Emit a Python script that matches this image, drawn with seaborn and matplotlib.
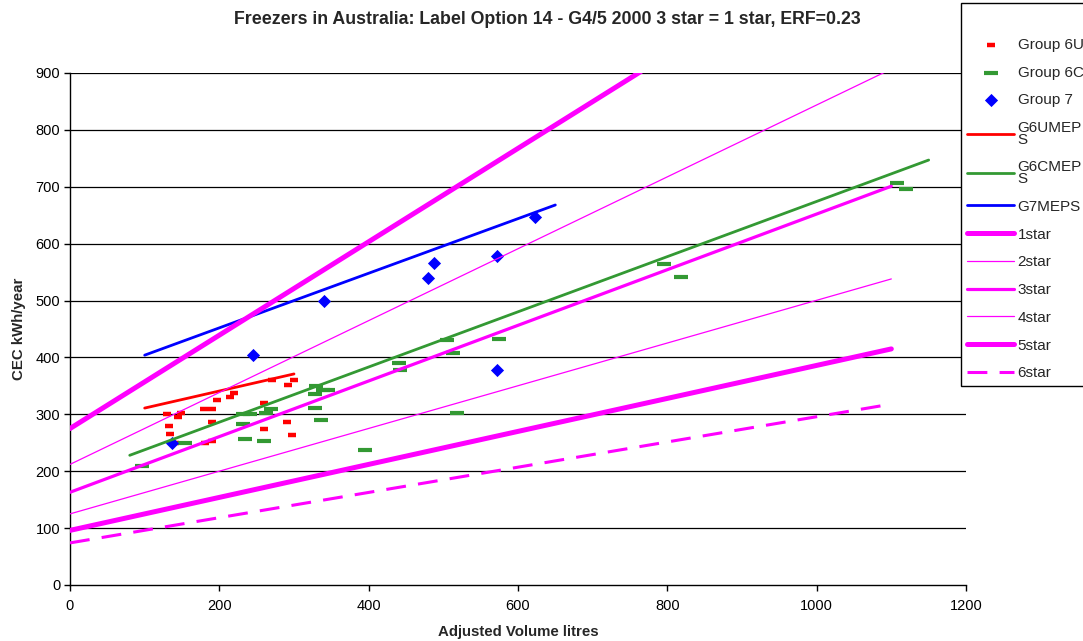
import matplotlib
matplotlib.use("Agg")
import matplotlib.pyplot as plt
import seaborn as sns
import numpy as np

# ---- data ----
g6u_x = [130, 148, 145, 133, 134, 141, 179, 190, 197, 214, 219, 190, 181, 190,
         260, 260, 270, 292, 300, 290, 297]
g6u_y = [300, 302, 296, 280, 265, 249, 309, 309, 326, 330, 338, 287, 250, 254,
         320, 274, 360, 352, 360, 286, 263]

g6c_x = [96, 154, 232, 241, 263, 269, 232, 234, 260, 330, 328, 339, 346, 328, 336,
         395, 441, 442, 505, 513, 574, 518, 795, 818, 1108, 1119]
g6c_y = [210, 249, 300, 300, 303, 309, 283, 257, 254, 349, 336, 342, 342, 312, 290,
         237, 390, 378, 431, 407, 433, 302, 564, 542, 706, 696]

g7_x = [137, 245, 340, 479, 487, 572, 572, 623]
g7_y = [250, 404, 499, 540, 566, 579, 378, 646]

meps_names = ["G6UMEP\nS", "G6CMEP\nS", "G7MEPS"]
meps_x = [[100, 300], [80, 1150], [100, 650]]
meps_y = [[311, 371], [228, 747], [404, 668]]

star_names = ["1star", "2star", "3star", "4star", "5star", "6star"]
star_x = [0, 1100]
star_start = [275, 212, 163, 125, 96, 74]
star_end = [1178, 907, 701, 538, 415, 318]

x_ticks = [0, 200, 400, 600, 800, 1000, 1200]
y_ticks = [0, 100, 200, 300, 400, 500, 600, 700, 800, 900]

# ---- style ----
sns.set_theme(style="white")
plt.rcParams['font.family'] = ['Liberation Sans', 'DejaVu Sans']

fig = plt.figure(figsize=(10.83, 6.41), dpi=100)
ax = fig.add_axes([70/1083, 1-585/641, (966-70)/1083, (585-73)/641])

MAG = "#FF00FF"

sns.scatterplot(x=g6u_x, y=g6u_y, ax=ax, marker="_", s=32, linewidth=3.2,
                color="#FF0000", label="Group 6U", zorder=3)
sns.scatterplot(x=g6c_x, y=g6c_y, ax=ax, marker="_", s=95, linewidth=3.0,
                color="#339933", label="Group 6C", zorder=3)
sns.scatterplot(x=g7_x, y=g7_y, ax=ax, marker="D", s=45, linewidth=0,
                color="#0000FF", label="Group 7", zorder=4)

meps_colors = ["#FF0000", "#339933", "#0000FF"]
for name, xs, ys, c in zip(meps_names, meps_x, meps_y, meps_colors):
    sns.lineplot(x=xs, y=ys, ax=ax, color=c, linewidth=2.0, label=name, zorder=5)

star_widths = [3.6, 0.9, 2.3, 0.9, 3.6, 2.2]
for i, (name, a, b, w) in enumerate(zip(star_names, star_start, star_end, star_widths)):
    sns.lineplot(x=star_x, y=[a, b], ax=ax, color=MAG, linewidth=w, label=name, zorder=6)
    if name == "6star":
        ax.lines[-1].set_dashes([6.5, 4])

ax.set_xlim(0, 1200)
ax.set_ylim(0, 900)
ax.set_xticks(x_ticks)
ax.set_yticks(y_ticks)
ax.tick_params(axis="both", which="major", direction="out", length=4, width=1,
               labelsize=10.5, colors="black", bottom=True, left=True, pad=3)
ax.tick_params(axis="x", pad=6)
for y in y_ticks[1:]:
    ax.axhline(y, color="black", linewidth=0.9, zorder=1)
for s in ["top", "right"]:
    ax.spines[s].set_visible(False)
for s in ["left", "bottom"]:
    ax.spines[s].set_color("black")
    ax.spines[s].set_linewidth(1.0)

ax.set_xlabel("Adjusted Volume litres", fontsize=10.8, fontweight="bold", labelpad=9)
ax.set_ylabel("CEC kWh/year", fontsize=10.8, fontweight="bold", labelpad=7)
fig.text(547/1083, 1-19/641, "Freezers in Australia: Label Option 14 - G4/5 2000 3 star = 1 star, ERF=0.23",
         ha="center", va="center", fontsize=12.8, fontweight="bold")

handles, labels = ax.get_legend_handles_labels()
ax.get_legend().remove()
leg = fig.legend(handles, labels, loc="upper left", bbox_to_anchor=(961/1083, 1-3/641),
                 frameon=True, fancybox=False, edgecolor="black", framealpha=1,
                 fontsize=11, handlelength=3.1, handletextpad=0.2, labelspacing=0.9,
                 borderpad=0.4, borderaxespad=0, numpoints=1, scatterpoints=1,
                 title=" ", title_fontsize=12.5)
leg.get_frame().set_linewidth(1.0)
for t in leg.get_texts():
    t.set_linespacing(0.78)

fig.savefig("out.png", dpi=100)
